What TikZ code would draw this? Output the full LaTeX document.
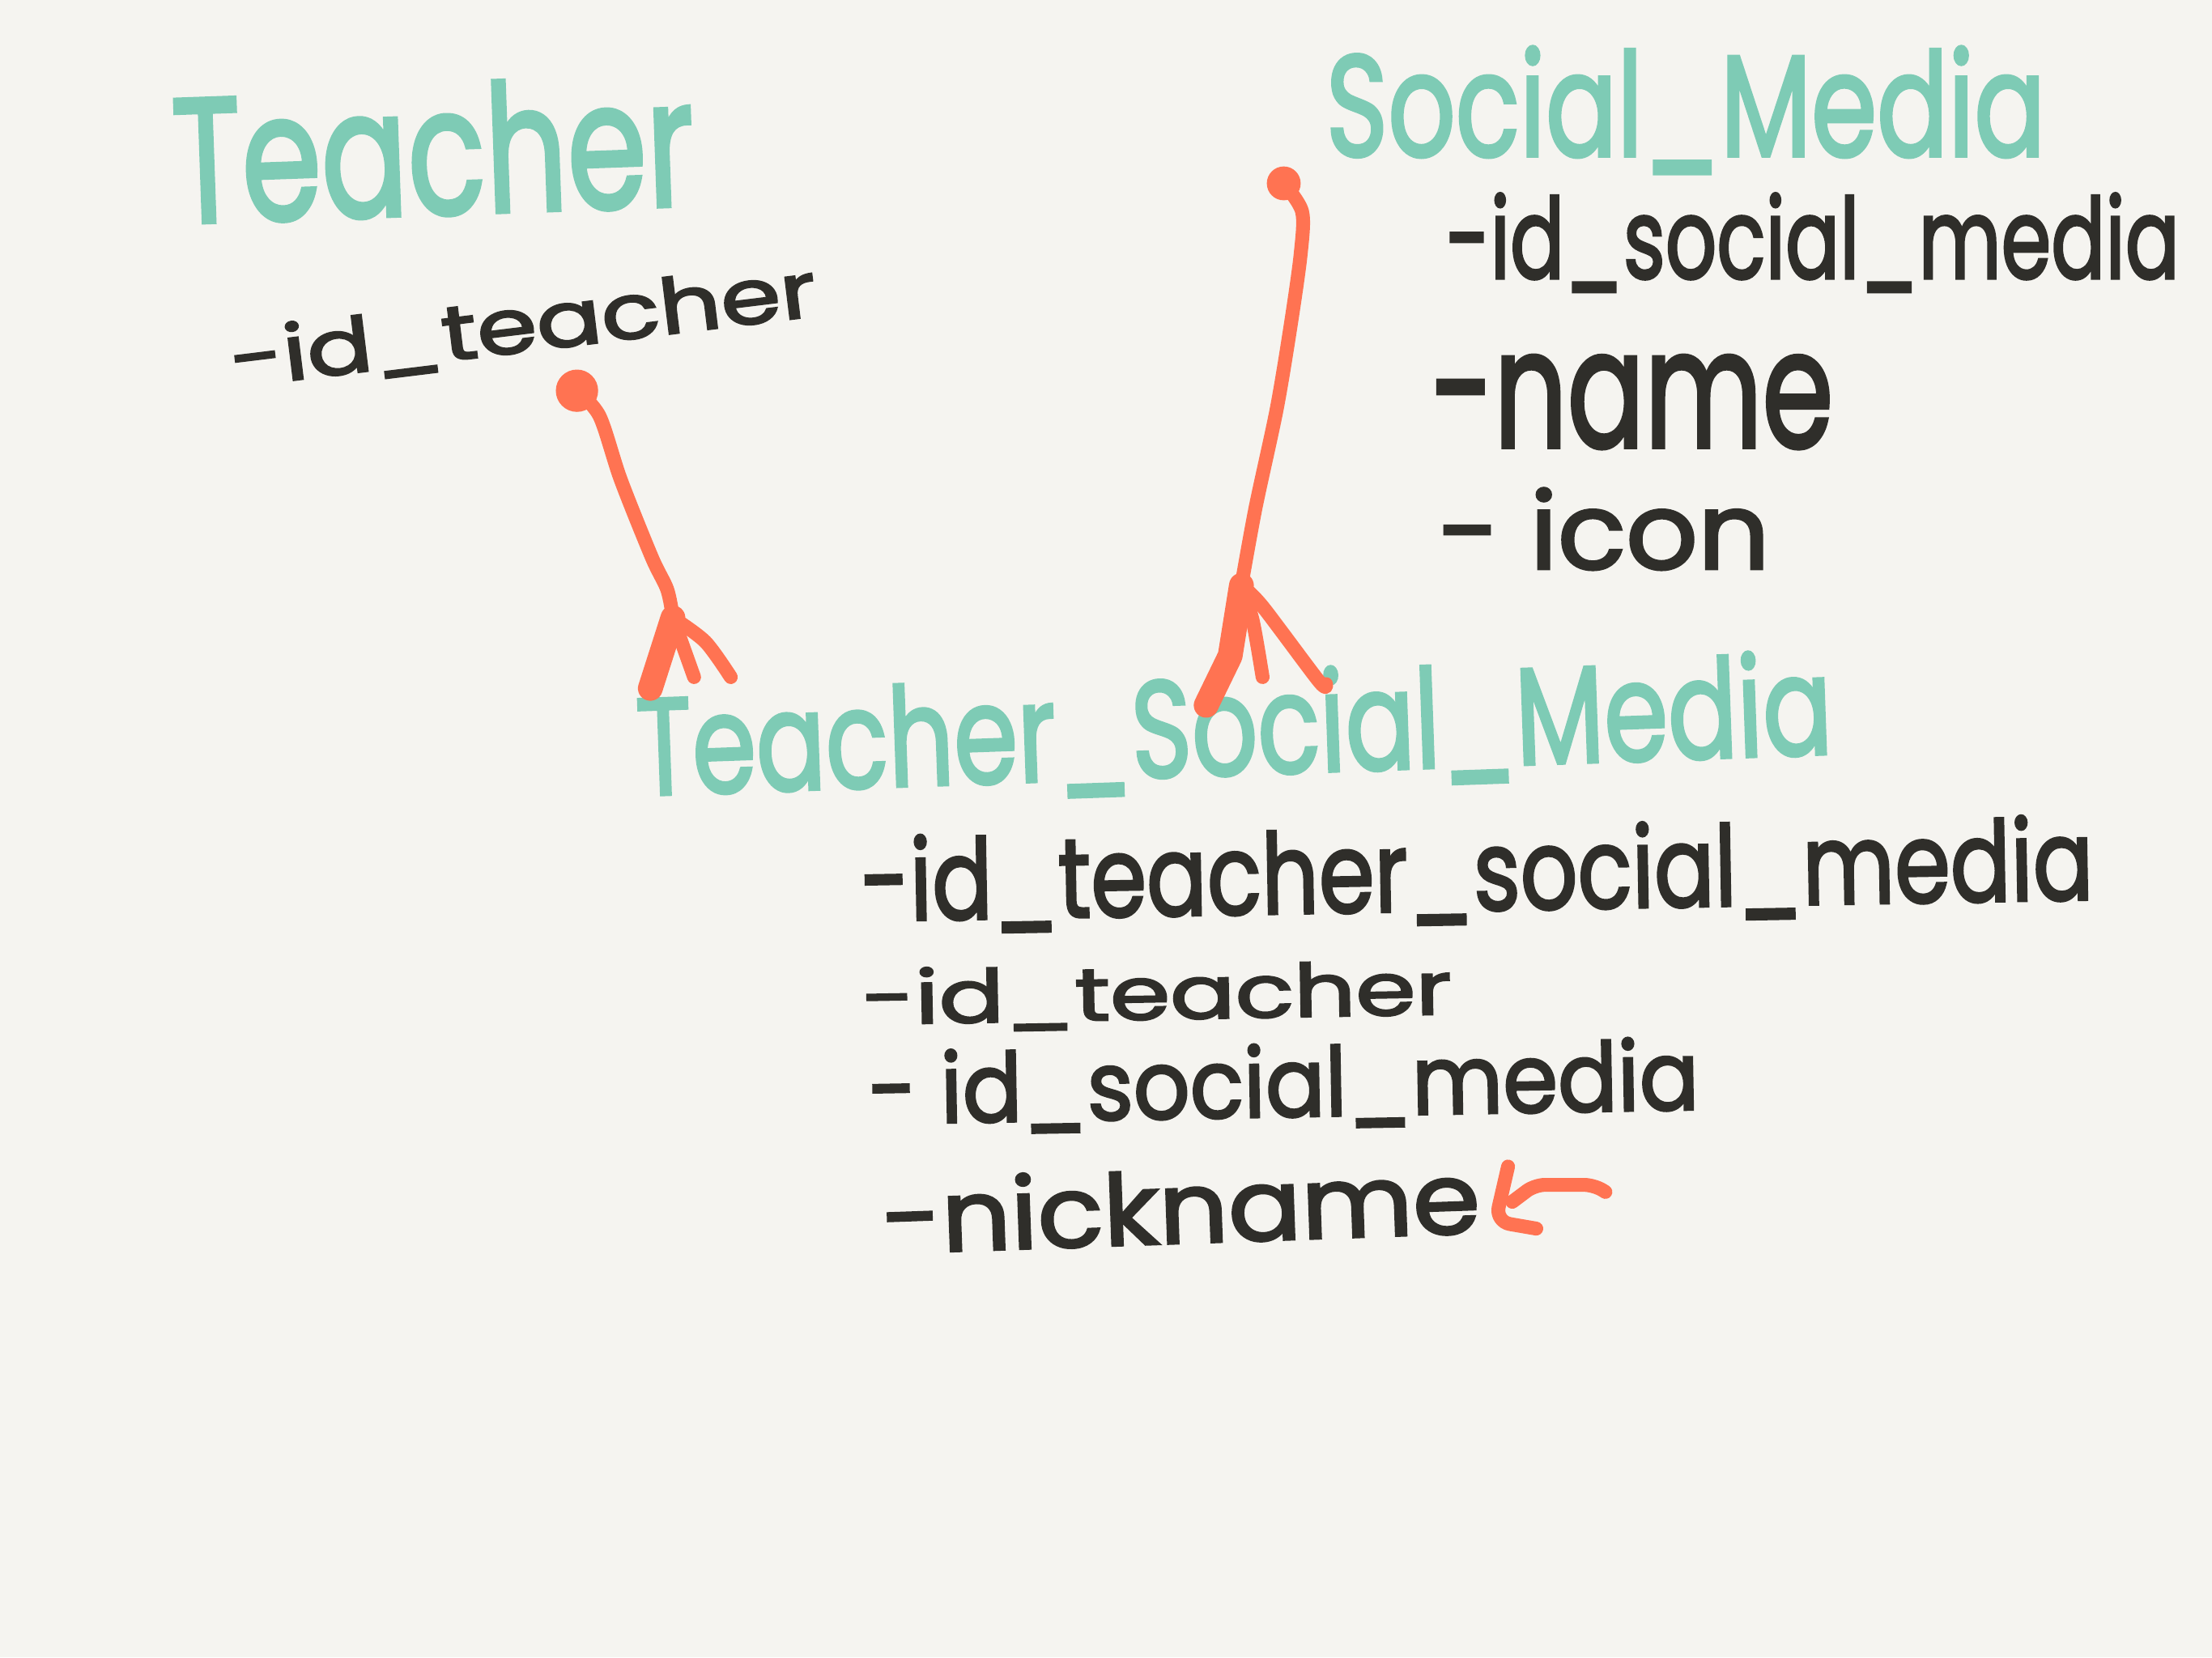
\documentclass[tikz,border=0pt]{standalone}
\usepackage{fontspec}
\setmainfont{Poppins}
\newfontfamily\handfont{Poppins}[FakeBold=2.5]
\usepackage{graphicx}
\definecolor{bgc}{RGB}{245,244,240}
\definecolor{tealc}{RGB}{126,203,181}
\definecolor{orangec}{RGB}{255,115,82}
\definecolor{inkc}{RGB}{47,46,42}
\newlength\U
\setlength\U{0.01cm}
\newcommand{\hw}[3]{\resizebox*{#1\U}{#2\U}{#3}}
\tikzset{
  title/.style={inner sep=0pt, text=tealc, font=\handfont},
  attr/.style={inner sep=0pt, text=inkc, font=\handfont},
  link/.style={draw=orangec, line width=2.8pt, line cap=round, line join=round},
}
\begin{document}
\begin{tikzpicture}[x=0.01cm,y=-0.01cm]
\fill[bgc] (0,0) rectangle (1568,1175);
\useasboundingbox (0,0) rectangle (1568,1175);

% Teacher table
\node[title, rotate=2] (teacher) at (307,106) {\hw{370}{94}{Teacher}};
\node[attr, rotate=7] (tid) at (371,232) {\hw{418}{48}{-id\_teacher}};

% Social_Media table
\node[title] (social) at (1195,78) {\hw{510}{90}{Social\_Media}};
\node[attr] (sid) at (1285,172) {\hw{520}{70}{-id\_social\_media}};
\node[attr] (sname) at (1157,285) {\hw{285}{66}{-name}};
\node[attr] (sicon) at (1137,375) {\hw{235}{58}{- icon}};

% Teacher_Social_Media table
\node[title, rotate=2] (tsm) at (875,518) {\hw{848}{86}{Teacher\_Social\_Media}};
\node[attr, rotate=1] (tsmid) at (1047,620) {\hw{874}{70}{-id\_teacher\_social\_media}};
\node[attr, rotate=1] (tsmt) at (820,706) {\hw{418}{46}{-id\_teacher}};
\node[attr, rotate=1] (tsms) at (910,770) {\hw{589}{60}{- id\_social\_media}};
\node[attr, rotate=2] (tsmn) at (837,855) {\hw{424}{54}{-nickname}};

% connector Teacher -> Teacher_Social_Media
\coordinate (dotT) at (409,277);
\coordinate (footT) at (477,438);
\fill[orangec] (dotT) circle (15);
\draw[link] plot[smooth] coordinates {(dotT) (425,295) (440,340) (462,395) (473,418) (footT)};
\draw[link, line width=5pt] (footT) -- (461,488);
\draw[link] (footT) -- (492,480);
\draw[link] plot[smooth] coordinates {(footT) (500,455) (518,480)};

% connector Social_Media -> Teacher_Social_Media
\coordinate (dotS) at (910,130);
\coordinate (footS) at (880,415);
\fill[orangec] (dotS) circle (12);
\draw[link] plot[smooth] coordinates {(dotS) (923,150) (922,180) (915,230) (905,290) (890,360) (footS)};
\draw[link, line width=5pt] (footS) -- (872,465) -- (855,500);
\draw[link] plot[smooth] coordinates {(footS) (888,440) (895,480)};
\draw[link] plot[smooth] coordinates {(footS) (895,430) (935,483) (940,485)};

% arrow at nickname
\coordinate (arrA) at (1069,827);
\coordinate (arrB) at (1138,845);
\draw[link, rounded corners=3pt] (arrA) -- (1060,866) -- (1089,871);
\draw[link, rounded corners=2pt] (1072,852) -- (1088,840) -- (1130,840) -- (arrB);
\end{tikzpicture}
\end{document}
